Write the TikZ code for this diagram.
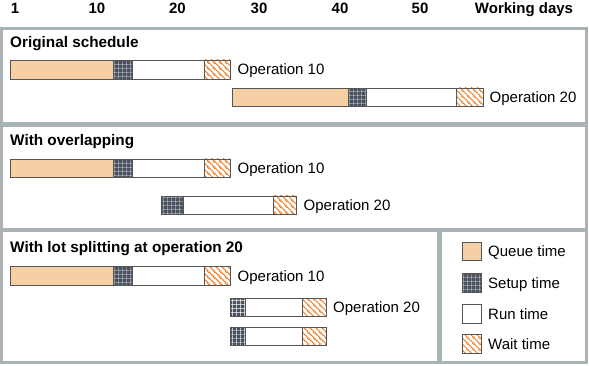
\documentclass[tikz,border=0pt]{standalone}
\usepackage{fontspec}
\setmainfont{Liberation Sans}
\usetikzlibrary{patterns.meta}
\definecolor{queuec}{HTML}{F7CFA5}
\definecolor{waitc}{HTML}{EE7A22}
\definecolor{setupc}{HTML}{4A5260}
\definecolor{framec}{HTML}{A9B2B4}
\definecolor{edgec}{HTML}{555555}
\tikzdeclarepattern{name=sgrid,type=uncolored,
  bounding box={(0pt,0pt) and (3.8pt,3.8pt)},tile size={(3.8pt,3.8pt)},
  line width=1.3pt,
  code={\draw (0pt,0pt)--(3.8pt,0pt) (0pt,0pt)--(0pt,3.8pt);}}
\tikzdeclarepattern{name=wlines,type=uncolored,
  bounding box={(0pt,0pt) and (5.5pt,5.5pt)},tile size={(5.5pt,5.5pt)},
  line width=1pt,
  code={\draw (-1pt,6.5pt)--(6.5pt,-1pt) (-1pt,1pt)--(1pt,-1pt) (4.5pt,6.5pt)--(6.5pt,4.5pt);}}
\tikzset{
  queue/.style={fill=queuec},
  setup/.style={fill=setupc,postaction={pattern={sgrid},pattern color=white}},
  run/.style={fill=white},
  wait/.style={fill=white,postaction={pattern={wlines},pattern color=waitc}},
  segedge/.style={draw=edgec,line width=0.9pt},
  lbl/.style={font=\fontsize{15}{18}\selectfont,inner sep=0pt,anchor=base west},
  ttl/.style={font=\fontsize{15.3}{18}\selectfont\bfseries,inner sep=0pt,anchor=base west},
  axl/.style={font=\fontsize{15}{18}\selectfont\bfseries,inner sep=0pt,anchor=base},
  frame/.style={draw=framec,line width=3pt},
  divider/.style={draw=framec,line width=4.5pt}
}
% full bar: y1 y2 q0 q1 s1 r1 w1
\newcommand{\fullbar}[7]{%
  \path[queue] (#3,#1) rectangle (#4,#2);
  \path[setup] (#4,#1) rectangle (#5,#2);
  \path[run] (#5,#1) rectangle (#6,#2);
  \path[wait] (#6,#1) rectangle (#7,#2);
  \draw[segedge] (#3,#1) rectangle (#7,#2) (#4,#1)--(#4,#2) (#5,#1)--(#5,#2) (#6,#1)--(#6,#2);}
% short bar: y1 y2 s0 s1 r1 w1
\newcommand{\shortbar}[6]{%
  \path[setup] (#3,#1) rectangle (#4,#2);
  \path[run] (#4,#1) rectangle (#5,#2);
  \path[wait] (#5,#1) rectangle (#6,#2);
  \draw[segedge] (#3,#1) rectangle (#6,#2) (#4,#1)--(#4,#2) (#5,#1)--(#5,#2);}
\begin{document}
\begin{tikzpicture}[x=1pt,y=-1pt]
\useasboundingbox[fill=white] (0,0) rectangle (589,366);
% axis
\node[axl] (a1) at (15,13.5) {1};
\node[axl] (a10) at (97,13.5) {10};
\node[axl] (a20) at (177.5,13.5) {20};
\node[axl] (a30) at (259,13.5) {30};
\node[axl] (a40) at (340,13.5) {40};
\node[axl] (a50) at (420,13.5) {50};
\node[axl] (awd) at (524,13.5) {Working days};
% frames
\draw[frame] (1.5,28.5) rectangle (586,362.5);
\draw[divider] (1.5,124.5) -- (586,124.5);
\draw[divider] (1.5,230) -- (586,230);
\draw[divider] (439.5,230) -- (439.5,362.5);
% panel 1
\node[ttl] (t1) at (10,48) {Original schedule};
\fullbar{60}{79}{10}{113}{132}{204}{230}
\node[lbl] (p1o10) at (237.5,75) {Operation 10};
\fullbar{88}{106}{232}{348}{366}{456}{483}
\node[lbl] (p1o20) at (489.5,102.5) {Operation 20};
% panel 2
\node[ttl] (t2) at (10,146) {With overlapping};
\fullbar{159}{177}{10}{113}{132}{204}{230}
\node[lbl] (p2o10) at (237.5,173.5) {Operation 10};
\shortbar{196}{214}{161}{183}{273}{296}
\node[lbl] (p2o20) at (303.5,210.5) {Operation 20};
% panel 3
\node[ttl] (t3) at (10,252) {With lot splitting at operation 20};
\fullbar{266}{285}{10}{113}{132}{204}{230}
\node[lbl] (p3o10) at (237.5,281) {Operation 10};
\shortbar{298}{316}{230}{245}{302}{326}
\node[lbl] (p3o20) at (333,312.5) {Operation 20};
\shortbar{327}{345}{230}{245}{302}{326}
% legend
\path[queue] (462,242) rectangle (481,260);
\draw[segedge] (462,242) rectangle (481,260);
\node[lbl] (lq) at (488,256.5) {Queue time};
\path[setup] (462,273) rectangle (481,292);
\draw[segedge] (462,273) rectangle (481,292);
\node[lbl] (ls) at (488,288) {Setup time};
\path[run] (462,304) rectangle (481,323);
\draw[segedge] (462,304) rectangle (481,323);
\node[lbl] (lr) at (488,319) {Run time};
\path[wait] (462,334) rectangle (481,353);
\draw[segedge] (462,334) rectangle (481,353);
\node[lbl] (lw) at (488,349) {Wait time};
\end{tikzpicture}
\end{document}
